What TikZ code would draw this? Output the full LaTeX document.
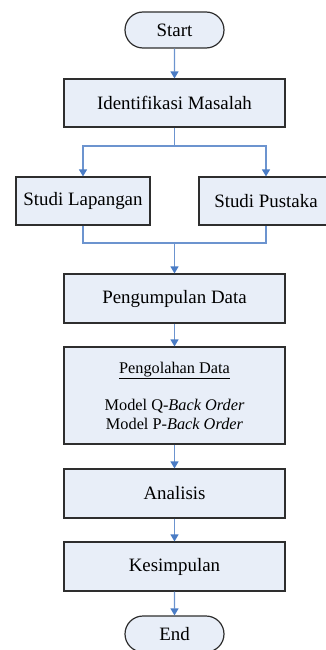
\documentclass[tikz,border=0pt]{standalone}
\usepackage{fontspec}
\setmainfont{Liberation Serif}
\usetikzlibrary{arrows.meta,shapes.misc}
\definecolor{boxfill}{HTML}{E8EEF8}
\definecolor{boxline}{HTML}{2E2E2E}
\definecolor{arrowblue}{HTML}{6C94CF}
\definecolor{tipblue}{HTML}{4A7CC5}
\begin{document}
\begin{tikzpicture}[x=1pt,y=-1pt,
  box/.style={draw=boxline,fill=boxfill,line width=1.2pt,rectangle,inner sep=0pt,
    minimum width=221pt,minimum height=48pt,font=\fontsize{18.9}{22}\selectfont},
  smallbox/.style={box,minimum width=134pt},
  term/.style={draw=boxline,fill=boxfill,line width=1.2pt,rounded rectangle,inner sep=0pt,
    minimum width=99pt,minimum height=36pt,font=\fontsize{18.9}{22}\selectfont},
  conn/.style={draw=arrowblue,line width=1.3pt},
  arr/.style={conn,-{Triangle[length=7pt,width=8pt,color=tipblue]}}]
\useasboundingbox (0,0) rectangle (326,650);
\node[term] (start) at (174.5,30) {Start};
\node[box] (ident) at (174.5,103) {Identifikasi Masalah};
\node[smallbox] (lap) at (83,201) {Studi Lapangan};
\node[smallbox] (pus) at (266,201) {Studi Pustaka};
\node[box,minimum height=49pt] (kumpul) at (174.5,298.5) {Pengumpulan Data};
\node[box,minimum height=97pt,align=center,font=\fontsize{16.3}{18.7}\selectfont] (olah) at (174.5,395.5)
  {\underline{Pengolahan Data}\\ \mbox{}\\ Model Q-\textit{Back Order}\\ Model P-\textit{Back Order}};
\node[box,minimum height=49pt] (anal) at (174.5,493.5) {Analisis};
\node[box,minimum height=49pt] (simp) at (174.5,566.5) {Kesimpulan};
\node[term] (end) at (174.5,634) {End};
\coordinate (split) at (174.5,146);
\coordinate (merge) at (174.5,243);
\draw[arr] (start) -- (ident);
\draw[conn] (ident.south) -- (split);
\draw[arr] (split) -| (lap.north);
\draw[arr] (split) -| (pus.north);
\draw[conn] (lap.south) |- (merge) -| (pus.south);
\draw[arr] (merge) -- (kumpul.north);
\draw[arr] (kumpul) -- (olah);
\draw[arr] (olah) -- (anal);
\draw[arr] (anal) -- (simp);
\draw[arr] (simp) -- (end);
\end{tikzpicture}
\end{document}
